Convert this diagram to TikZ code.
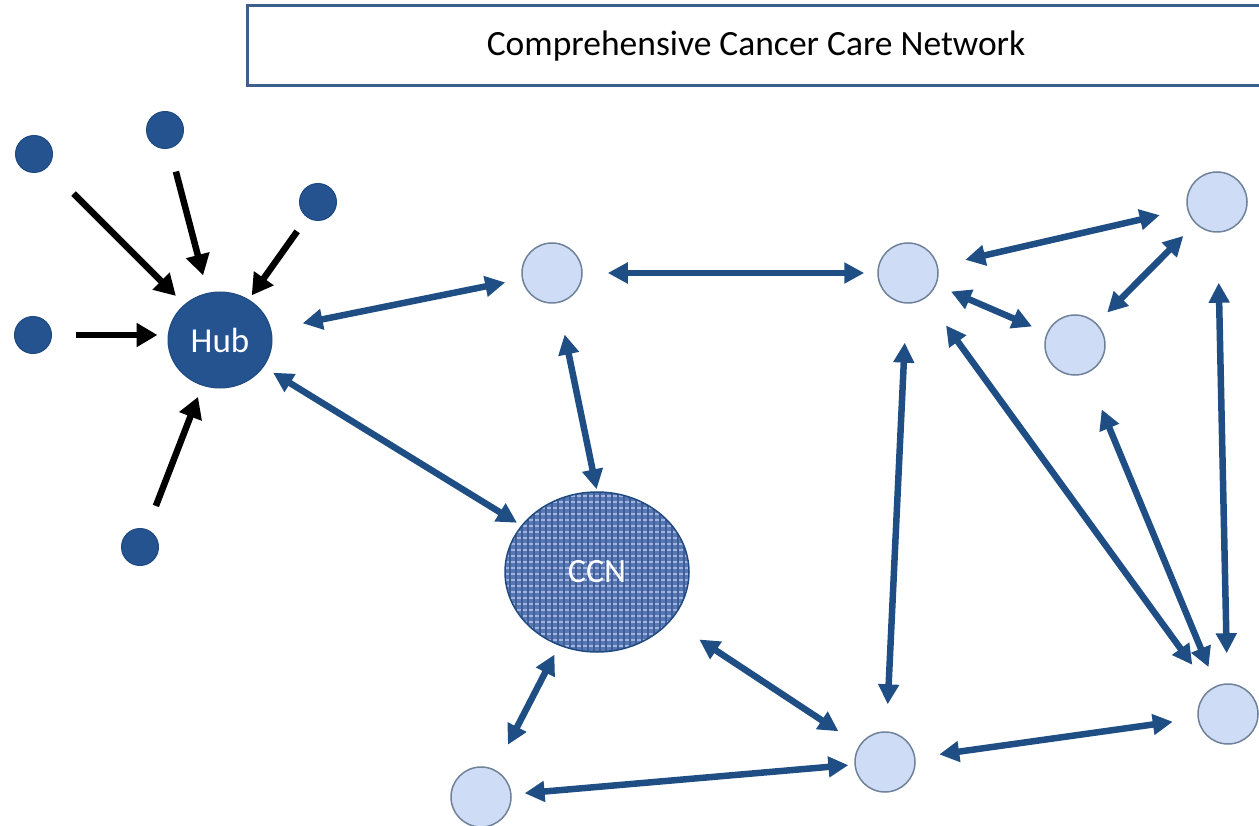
\documentclass[tikz,border=0pt]{standalone}
\usepackage{fontspec}
\setmainfont{Carlito}
\usetikzlibrary{arrows.meta,shapes.geometric,patterns,patterns.meta}
\definecolor{hubblue}{HTML}{24538F}
\definecolor{hubedge}{HTML}{1F4A80}
\definecolor{arrowblue}{HTML}{1F4E85}
\definecolor{lightfill}{HTML}{CFDCF5}
\definecolor{lightedge}{HTML}{6F8299}
\definecolor{ccnfill}{HTML}{5878B4}
\definecolor{ccndots}{HTML}{9FB5E0}
\definecolor{ccndark}{HTML}{3F5E98}
\definecolor{titleedge}{HTML}{3E5F8C}
\begin{document}
\begin{tikzpicture}[x=1pt,y=-1pt,
 smallnode/.style={circle, fill=hubblue, draw=hubedge, line width=1pt, minimum size=37pt, inner sep=0pt},
 lightnode/.style={circle, fill=lightfill, draw=lightedge, line width=1.5pt, minimum size=60pt, inner sep=0pt},
 hubnode/.style={ellipse, fill=hubblue, draw=hubedge, line width=1pt, minimum width=104pt, minimum height=96pt, inner sep=0pt, text=white, font=\fontsize{35}{35}\selectfont},
 ccnnode/.style={ellipse, preaction={fill=ccnfill},
   preaction={pattern={Lines[distance=6pt,angle=0,line width=1.6pt]}, pattern color=ccndots},
   pattern={Lines[distance=6pt,angle=90,line width=1.4pt]}, pattern color=ccndark,
   draw=hubedge, line width=1.5pt, minimum width=184pt, minimum height=160pt, inner sep=0pt, text=white, font=\fontsize{34}{34}\selectfont},
 titlebox/.style={draw=titleedge, line width=3pt, fill=white, minimum width=1018pt, minimum height=80pt, inner sep=0pt, font=\fontsize{35.5}{36}\selectfont},
 blk/.style={line width=6.5pt, black, -{Triangle[length=21pt,width=23pt]}},
 barr/.style={line width=6.5pt, arrowblue, {Triangle[length=20pt,width=20pt]}-{Triangle[length=20pt,width=20pt]}},
]
\useasboundingbox (0,0) rectangle (1259,826);
\node[titlebox] (title) at (756,46) {Comprehensive Cancer Care Network};

\node[smallnode] (s1) at (34,154) {};
\node[smallnode] (s2) at (165,130) {};
\node[smallnode] (s3) at (318,202) {};
\node[smallnode] (s4) at (33,335) {};
\node[smallnode] (s5) at (140,547) {};
\node[hubnode] (hub) at (220,340) {Hub};

\node[lightnode] (a) at (552,273) {};
\node[lightnode] (b) at (908,273) {};
\node[lightnode] (c) at (1217,202) {};
\node[lightnode] (d) at (1075,345) {};
\node[lightnode] (e) at (1228,714) {};
\node[lightnode] (f) at (885,762) {};
\node[lightnode] (g) at (481,797) {};
\node[ccnnode] (ccn) at (597,572) {CCN};

\draw[blk, shorten <=37pt, shorten >=12pt] (s1) -- (hub);
\draw[blk, shorten <=24pt, shorten >=18pt] (s2) -- (hub);
\draw[blk, shorten <=17pt, shorten >=5pt] (s3) -- (hub);
\draw[blk, shorten <=24pt, shorten >=10pt] (s4) -- (s4 -| hub.west);
\draw[blk, shorten <=25pt, shorten >=12pt] (s5) -- (hub);

\draw[barr, shorten <=32pt, shorten >=17pt] (hub) -- (a);
\draw[barr, shorten <=11pt, shorten >=5pt] (hub) -- (ccn);
\draw[barr, shorten <=32pt, shorten >=2pt] (a) -- (ccn.north);
\draw[barr, shorten <=25pt, shorten >=13pt] (a) -- (b);
\draw[barr, shorten <=28pt, shorten >=28pt] (b) -- (c);
\draw[barr, shorten <=16pt, shorten >=16pt] (b) -- (d);
\draw[barr, shorten <=15pt, shorten >=17pt] (d) -- (c);
\draw[barr, shorten <=50pt, shorten >=30pt] (c) -- (e);
\draw[barr, shorten <=34pt, shorten >=30pt] (b) -- (e);
\draw[barr, shorten <=39pt, shorten >=20pt] (d) -- (e);
\draw[barr, shorten <=39pt, shorten >=27pt] (b) -- (f);
\draw[barr, shorten <=34pt, shorten >=25pt] (ccn) -- (f);
\draw[barr, shorten <=10pt, shorten >=28pt] (ccn) -- (g);
\draw[barr, shorten <=13pt, shorten >=6pt] (g) -- (f);
\draw[barr, shorten <=24pt, shorten >=25pt] (f) -- (e);
\end{tikzpicture}
\end{document}
